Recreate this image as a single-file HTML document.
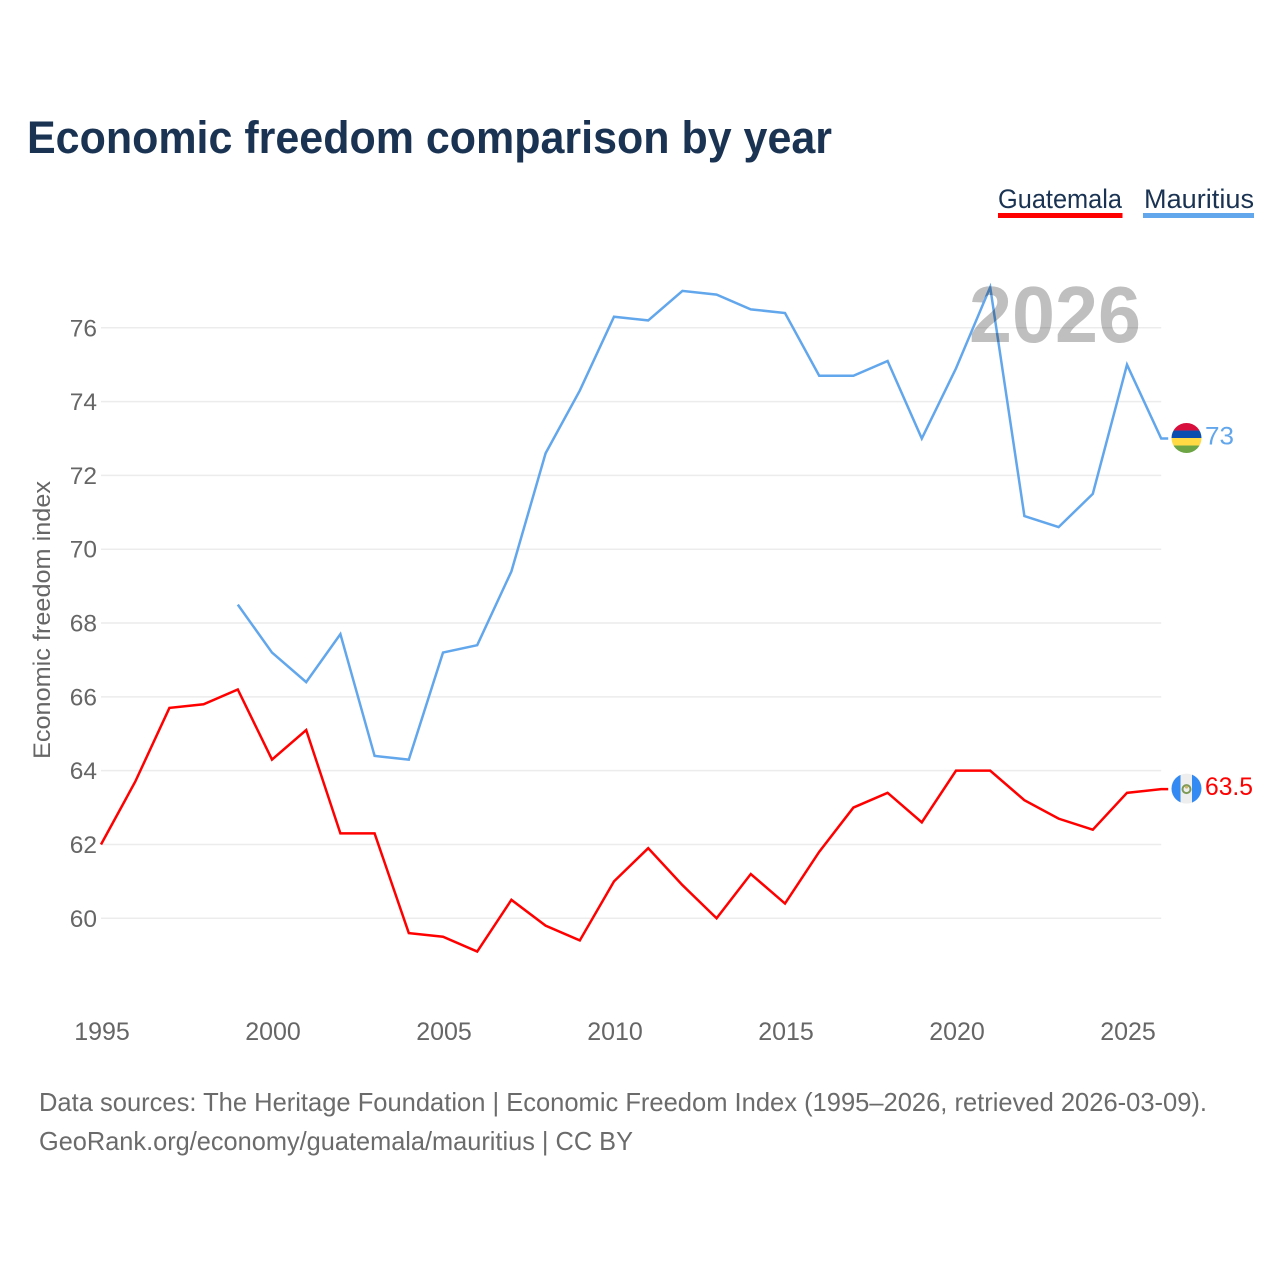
<!DOCTYPE html>
<html lang="en">
<head>
<meta charset="utf-8">
<title>Economic freedom comparison by year</title>
<style>
html,body{margin:0;padding:0;background:#fff}
svg{display:block}
text{font-family:"Liberation Sans",Arial,sans-serif}
</style>
</head>
<body>
<svg id="chart" width="1280" height="1280" viewBox="0 0 1280 1280" xmlns="http://www.w3.org/2000/svg">
  <rect width="1280" height="1280" fill="#fff"/>
  <text x="27" y="153" font-size="45" font-weight="700" fill="#1a3353" textLength="805" lengthAdjust="spacingAndGlyphs">Economic freedom comparison by year</text>

  <g>
    <text x="998" y="208" font-size="27" fill="#1a3353" textLength="124" lengthAdjust="spacingAndGlyphs">Guatemala</text>
    <rect x="998" y="213" width="124.500" height="5" fill="#ff0000"/>
  </g>
  <g>
    <text x="1144" y="208" font-size="27" fill="#1a3353" textLength="110" lengthAdjust="spacingAndGlyphs">Mauritius</text>
    <rect x="1143" y="213" width="111" height="5" fill="#62a6ec"/>
  </g>

  <g id="grid"></g>
  <g id="yticks"></g>
  <g id="xticks"></g>
  <text transform="translate(50,759) rotate(-90)" font-size="24.500" fill="#666" textLength="278" lengthAdjust="spacingAndGlyphs">Economic freedom index</text>
  <g id="series"></g>
  <text id="year-watermark" x="969" y="342" font-size="80" font-weight="700" fill="#000000" fill-opacity="0.25" textLength="172" lengthAdjust="spacingAndGlyphs">2026</text>

  <clipPath id="clip-flag"><circle cx="0" cy="0" r="15"/></clipPath>
  <g id="flag-mauritius">
    <g clip-path="url(#clip-flag)">
      <rect x="-16" y="-16" width="32" height="8.500" fill="#d80f3c"/>
      <rect x="-16" y="-7.500" width="32" height="7.500" fill="#0a4fb0"/>
      <rect x="-16" y="0" width="32" height="7.500" fill="#ffda44"/>
      <rect x="-16" y="7.500" width="32" height="8.500" fill="#6da544"/>
    </g>
  </g>
  <g id="flag-guatemala">
    <g clip-path="url(#clip-flag)">
      <rect x="-16" y="-16" width="32" height="32" fill="#eeeeee"/>
      <rect x="-16" y="-16" width="10" height="32" fill="#338af3"/>
      <rect x="5.500" y="-16" width="10.500" height="32" fill="#338af3"/>
      <circle cx="0" cy="0.500" r="4" fill="none" stroke="#7c9a55" stroke-width="2"/>
      <circle cx="0" cy="-1.500" r="1.500" fill="#c9b46a"/>
    </g>
  </g>
  <text id="end-label-mauritius" x="1205" y="444" font-size="25" fill="#62a6ec" textLength="29" lengthAdjust="spacingAndGlyphs"></text>
  <text id="end-label-guatemala" x="1205" y="795" font-size="25" fill="#ff0000" textLength="48" lengthAdjust="spacingAndGlyphs"></text>

  <text x="39" y="1111" font-size="26" fill="#6b6b6b" textLength="1168" lengthAdjust="spacingAndGlyphs">Data sources: The Heritage Foundation | Economic Freedom Index (1995–2026, retrieved 2026-03-09).</text>
  <text x="39" y="1150" font-size="26" fill="#6b6b6b" textLength="594" lengthAdjust="spacingAndGlyphs">GeoRank.org/economy/guatemala/mauritius | CC BY</text>
</svg>
<script>
const years = [1995,1996,1997,1998,1999,2000,2001,2002,2003,2004,2005,2006,2007,2008,2009,2010,2011,2012,2013,2014,2015,2016,2017,2018,2019,2020,2021,2022,2023,2024,2025,2026];
const guatemalaValues = [62.0,63.7,65.7,65.8,66.2,64.3,65.1,62.3,62.3,59.6,59.5,59.1,60.5,59.8,59.4,61.0,61.9,60.9,60.0,61.2,60.4,61.8,63.0,63.4,62.6,64.0,64.0,63.2,62.7,62.4,63.4,63.5];
const mauritiusValues = [null,null,null,null,68.5,67.2,66.4,67.7,64.4,64.3,67.2,67.4,69.4,72.6,74.3,76.3,76.2,77.0,76.9,76.5,76.4,74.7,74.7,75.1,73.0,74.9,77.1,70.9,70.6,71.5,75.0,73.0];
const yTickLabels = [60,62,64,66,68,70,72,74,76];
const xTickLabels = [1995,2000,2005,2010,2015,2020,2025];

const NS = 'http://www.w3.org/2000/svg';
function xScale(year){ return 101 + (year - 1995) * 34.2; }
function yScale(v){ return 918.3 - (v - 60) * (918.3 - 327.8) / 16; }

const grid = document.getElementById('grid');
const yticks = document.getElementById('yticks');
yTickLabels.forEach(function(v){
  const line = document.createElementNS(NS, 'line');
  
  
  line.setAttribute('x1', xScale(1995));
  line.setAttribute('x2', xScale(2026));
  line.setAttribute('y1', yScale(v));
  line.setAttribute('y2', yScale(v));
  line.setAttribute('stroke', '#ececec');
  line.setAttribute('stroke-width', '1.5');
  grid.appendChild(line);
  const t = document.createElementNS(NS, 'text');
  
  
  t.setAttribute('x', 97);
  t.setAttribute('y', yScale(v) + 8.5);
  t.setAttribute('text-anchor', 'end');
  t.setAttribute('font-size', '24.5');
  t.setAttribute('fill', '#666');
  t.textContent = v;
  yticks.appendChild(t);
});

const xticks = document.getElementById('xticks');
xTickLabels.forEach(function(y){
  const t = document.createElementNS(NS, 'text');
  
  
  t.setAttribute('x', xScale(y) + 1);
  t.setAttribute('y', 1040);
  t.setAttribute('text-anchor', 'middle');
  t.setAttribute('font-size', '25');
  t.setAttribute('fill', '#666');
  t.textContent = y;
  xticks.appendChild(t);
});

function linePoints(values){
  const pts = [];
  values.forEach(function(v, i){
    if (v !== null) pts.push(xScale(years[i]).toFixed(2) + ',' + yScale(v).toFixed(2));
  });
  const last = values[values.length - 1];
  pts.push((xScale(years[years.length - 1]) + 7).toFixed(2) + ',' + yScale(last).toFixed(2));
  return pts.join(' ');
}
const series = document.getElementById('series');

const lineGuatemala = document.createElementNS(NS, 'polyline');


lineGuatemala.setAttribute('points', linePoints(guatemalaValues));
lineGuatemala.setAttribute('fill', 'none');
lineGuatemala.setAttribute('stroke', '#ff0000');
lineGuatemala.setAttribute('stroke-width', '2.5');
series.appendChild(lineGuatemala);

const lineMauritius = document.createElementNS(NS, 'polyline');


lineMauritius.setAttribute('points', linePoints(mauritiusValues));
lineMauritius.setAttribute('fill', 'none');
lineMauritius.setAttribute('stroke', '#62a6ec');
lineMauritius.setAttribute('stroke-width', '2.5');
series.appendChild(lineMauritius);

const lastYear = years[years.length - 1];
const lastGuatemala = guatemalaValues[guatemalaValues.length - 1];
const lastMauritius = mauritiusValues[mauritiusValues.length - 1];
document.getElementById('year-watermark').textContent = lastYear;
document.getElementById('flag-guatemala').setAttribute('transform', 'translate(1186.5,' + (yScale(lastGuatemala) - 0.5) + ')');
document.getElementById('flag-mauritius').setAttribute('transform', 'translate(1186.5,' + (yScale(lastMauritius) - 0.5) + ')');
const labelGuatemala = document.getElementById('end-label-guatemala');
labelGuatemala.textContent = lastGuatemala;
labelGuatemala.setAttribute('y', yScale(lastGuatemala) + 6);
const labelMauritius = document.getElementById('end-label-mauritius');
labelMauritius.textContent = lastMauritius;
labelMauritius.setAttribute('y', yScale(lastMauritius) + 6);
</script>
</body>
</html>
